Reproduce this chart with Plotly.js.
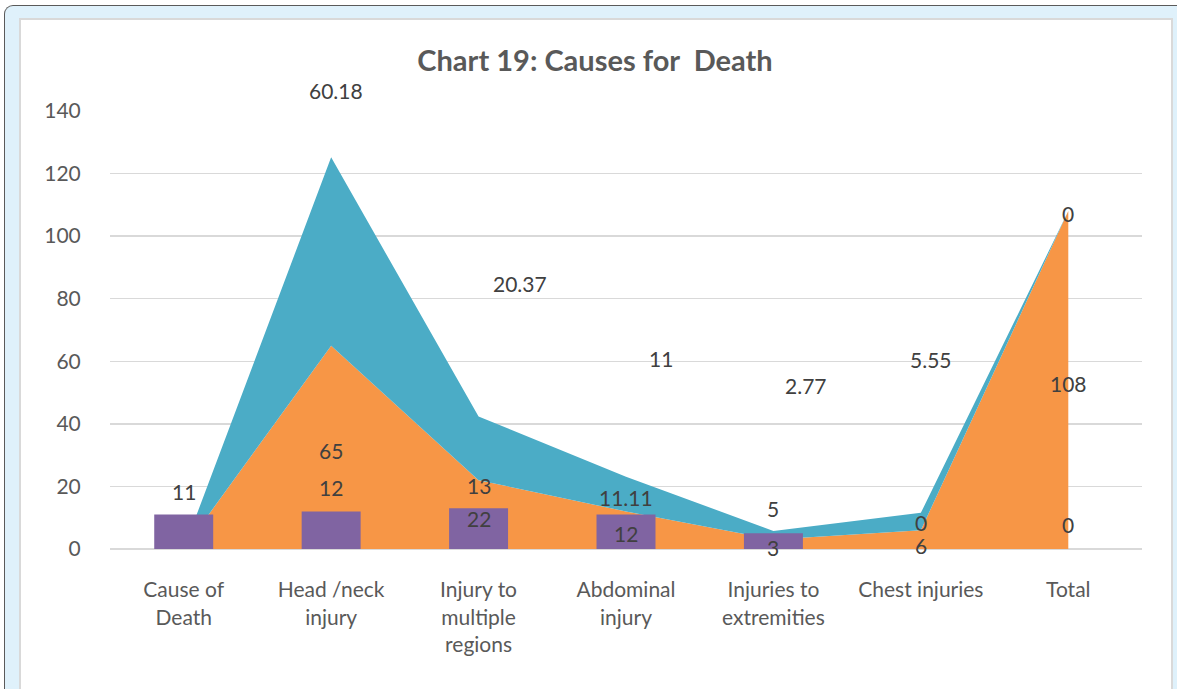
<!DOCTYPE html>
<html>
<head>
<meta charset="utf-8">
<script src="https://cdn.plot.ly/plotly-3.0.1.min.js"></script>
<style>
  html, body { margin:0; padding:0; width:1177px; height:689px; overflow:hidden; background:#fff; }
  #frame { position:absolute; left:4px; top:5px; width:1200px; height:720px; border-left:1.5px solid #5a5a5a; border-top:1.5px solid #5a5a5a; border-radius:9px 0 0 0; background:#DFF1FB; }
  #panel { position:absolute; left:19px; top:18px; width:1150px; height:720px; border:2px solid #D9D9D9; background:#fff; }
  #chart { position:absolute; left:0; top:0; width:1177px; height:689px; }
</style>
</head>
<body>
<div id="frame"></div>
<div id="panel"></div>
<div id="chart"></div>
<script>
// ---- data ----
const categories = ['Cause of Death', 'Head /neck injury', 'Injury to multiple regions', 'Abdominal injury', 'Injuries to extremities', 'Chest injuries', 'Total'];
const tickLabels = ['Cause of<br>Death', 'Head /neck<br>injury', 'Injury to<br>multiple<br>regions', 'Abdominal<br>injury', 'Injuries to<br>extremities', 'Chest injuries', 'Total'];
const orangeValues = [0, 65, 22, 12, 3, 6, 108];
const tealValues = [0, 60.18, 20.37, 11.11, 2.77, 5.55, 0];
const barValues = [11, 12, 13, 11, 5, 0, 0];
const yTicks = [0, 20, 40, 60, 80, 100, 120, 140];

// ---- label placement (as laid out in the original); [x, y, extra pixel shift up] ----
const orangeLabelPos = [[0, -0.8, 0], [1, 31.6, 0], [2, 9.9, 0], [3, 5.1, 0], [4, 0.4, 0], [5, 1.9, -2], [6, 53, 0]];
const tealLabelPos = [[0, -0.8, 0], [1.03, 140, 21], [2.28, 85, 0], [3, 16.6, 0], [4.22, 52.4, 0], [5.07, 60.7, 0], [6, 107.3, 0]];
const barLabelPos = [[0, 18.5, 0], [1, 19.5, 0], [2, 20.4, 0], [3.24, 61, 0], [4, 12.8, 0], [5, 7.7, 2], [6, 7.7, 0]];

const FONT = 'Lato, "Open Sans", sans-serif';
const idx = categories.map((c, i) => i);

const traces = [
  {
    type: 'scatter', mode: 'none', x: idx, y: orangeValues, stackgroup: 'one',
    fillcolor: '#F79646', line: { width: 0 }, hoverinfo: 'y', name: 'Series 1'
  },
  {
    type: 'scatter', mode: 'none', x: idx, y: tealValues, stackgroup: 'one',
    fillcolor: '#4BACC6', line: { width: 0 }, hoverinfo: 'y', name: 'Series 2'
  },
  {
    type: 'bar', x: idx, y: barValues, xaxis: 'x2', yaxis: 'y2', width: 0.40,
    marker: { color: '#8064A2', line: { width: 0 } }, name: 'Series 3'
  }
];

function labels(values, pos) {
  return values.map((v, i) => ({
    x: pos[i][0], y: pos[i][1], yshift: pos[i][2], xref: 'x', yref: 'y', text: String(v),
    showarrow: false, font: { family: FONT, size: 21, color: '#404040' },
    xanchor: 'center', yanchor: 'middle'
  }));
}

const annotations = [].concat(
  labels(orangeValues, orangeLabelPos),
  labels(tealValues, tealLabelPos),
  labels(barValues, barLabelPos)
);

const layout = {
  width: 1177, height: 689,
  margin: { l: 110, r: 35, t: 111, b: 140 },
  paper_bgcolor: 'rgba(0,0,0,0)', plot_bgcolor: 'rgba(0,0,0,0)',
  showlegend: false,
  title: {
    text: '<b>Chart 19: Causes for  Death</b>',
    font: { family: FONT, size: 29, color: '#595959' },
    x: 595 / 1177, xref: 'container', xanchor: 'center',
    y: 1 - 61 / 689, yref: 'container', yanchor: 'middle'
  },
  xaxis: {
    range: [-0.5, 6.5], tickvals: idx, ticktext: tickLabels,
    showgrid: false, zeroline: false, showline: false,
    ticks: 'outside', ticklen: 22, tickcolor: 'rgba(0,0,0,0)',
    tickfont: { family: FONT, size: 21, color: '#595959' }
  },
  yaxis: {
    range: [0, 140], tickvals: yTicks,
    showgrid: true, gridcolor: '#D9D9D9', gridwidth: 1.5,
    zeroline: true, zerolinecolor: '#D9D9D9', zerolinewidth: 1.5, showline: false,
    ticks: 'outside', ticklen: 24, tickcolor: 'rgba(0,0,0,0)',
    tickfont: { family: FONT, size: 21, color: '#595959' }
  },
  xaxis2: { overlaying: 'x', range: [-0.5, 6.5], visible: false },
  yaxis2: { overlaying: 'y', range: [0, 140], visible: false },
  annotations: annotations
};

Plotly.newPlot('chart', traces, layout, { displayModeBar: false, staticPlot: true });
</script>
</body>
</html>
